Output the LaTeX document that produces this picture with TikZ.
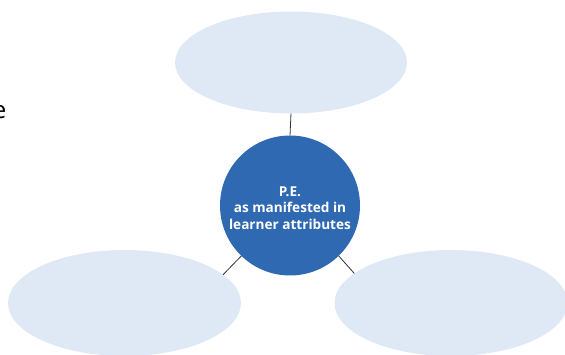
\documentclass[tikz,border=0pt]{standalone}
\usepackage{fontspec}
\setmainfont{Open Sans}
\usetikzlibrary{shapes.geometric}
\definecolor{pale}{RGB}{223,233,246}
\definecolor{hubblue}{RGB}{47,105,178}
\begin{document}
\begin{tikzpicture}[x=1pt,y=-1pt,
  leaf/.style={ellipse, fill=pale, minimum width=232pt, minimum height=102pt, inner sep=0pt, outer sep=0pt},
  hubnode/.style={circle, fill=hubblue, minimum size=140pt, inner sep=0pt, outer sep=0pt, text=white,
    font=\bfseries\fontsize{13.6}{16.3}\selectfont, align=center},
  link/.style={draw=black!80, line width=0.8pt}]
\useasboundingbox (0,0) rectangle (565,355);
\node[leaf] (top) at (291,62.5) {};
\node[leaf, minimum width=233pt, minimum height=106pt] (bl) at (124.5,303) {};
\node[leaf, minimum width=233pt, minimum height=106pt] (br) at (451,303) {};
\node[hubnode] (hub) at (290,205.5) {};
\node[text=white, font=\bfseries\fontsize{13.6}{16.3}\selectfont, align=center, inner sep=0pt] (label) at (290,208) {P.E.\\as manifested in\\learner attributes};
\draw[link] (top.south) -- (hub.north);
\draw[link] (hub.226.7) -- (bl.16);
\draw[link] (hub.-46.7) -- (br.163);
\node[font=\fontsize{24}{28}\selectfont, anchor=base, inner sep=0pt] (cut) at (-0.5,119) {e};
\end{tikzpicture}
\end{document}
